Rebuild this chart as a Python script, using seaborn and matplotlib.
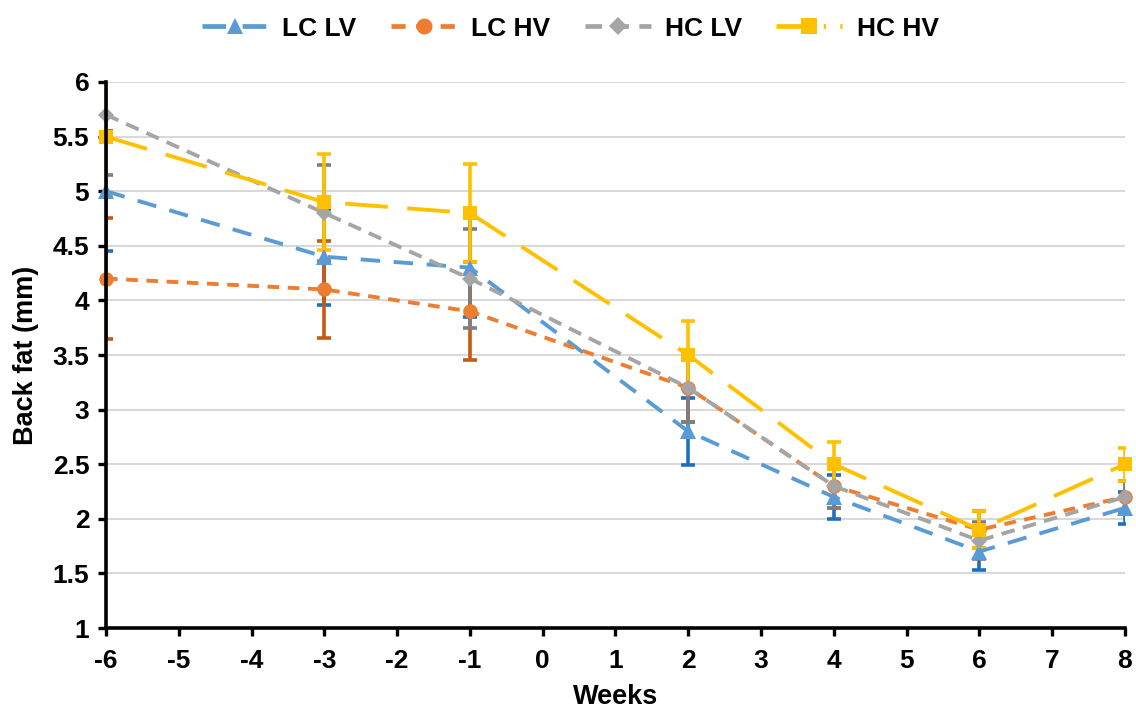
import pandas as pd
import numpy as np
import matplotlib
matplotlib.use("Agg")
import matplotlib.pyplot as plt
import seaborn as sns

# Data
weeks = [-6, -3, -1, 2, 4, 6, 8]
lc_lv = [5.0, 4.4, 4.3, 2.8, 2.2, 1.7, 2.1]
lc_hv = [4.2, 4.1, 3.9, 3.2, 2.3, 1.9, 2.2]
hc_lv = [5.7, 4.8, 4.2, 3.2, 2.3, 1.8, 2.2]
hc_hv = [5.5, 4.9, 4.8, 3.5, 2.5, 1.9, 2.5]
se = [0.55, 0.44, 0.45, 0.31, 0.20, 0.17, 0.15]

groups = ["LC LV", "LC HV", "HC LV", "HC HV"]
series = {"LC LV": lc_lv, "LC HV": lc_hv, "HC LV": hc_lv, "HC HV": hc_hv}

df = pd.concat(
    [pd.DataFrame({"Weeks": weeks, "Back fat": v, "Group": g, "se": se}) for g, v in series.items()],
    ignore_index=True,
)

line_colors = {"LC LV": "#5B9BD5", "LC HV": "#ED7D31", "HC LV": "#A5A5A5", "HC HV": "#FFC000"}
err_colors = {"LC LV": "#1F6FBF", "LC HV": "#C55A11", "HC LV": "#7F7F7F", "HC HV": "#FFC000"}
markers = {"LC LV": "^", "LC HV": "o", "HC LV": "D", "HC HV": "s"}
dashes = {"LC LV": (5, 3.5), "LC HV": (3, 2.2), "HC LV": (3.5, 2.2), "HC HV": (11, 5)}
msize = {"LC LV": 11, "LC HV": 10.5, "HC LV": 8, "HC HV": 10.5}

sns.set_theme(style="white")
plt.rcParams["font.family"] = ["Liberation Sans", "DejaVu Sans"]
plt.rcParams["font.weight"] = "bold"
plt.rcParams["axes.unicode_minus"] = False
plt.rcParams["text.color"] = "black"
plt.rcParams["axes.labelcolor"] = "black"
plt.rcParams["xtick.color"] = "black"
plt.rcParams["ytick.color"] = "black"

fig = plt.figure(figsize=(11.36, 7.13), dpi=100)
ax = fig.add_axes([0.0933, 0.1192, 0.8970, 0.7658])

# error bars (drawn under the lines)
for g in groups:
    d = df[df["Group"] == g]
    ax.errorbar(d["Weeks"], d["Back fat"], yerr=d["se"], fmt="none",
                ecolor=err_colors[g], elinewidth=2.6, capsize=5, capthick=2.6, zorder=2)

n_before = len(ax.lines)
sns.lineplot(data=df, x="Weeks", y="Back fat", hue="Group", style="Group",
             hue_order=groups, style_order=groups, palette=line_colors,
             markers=markers, dashes=dashes, linewidth=2.8, markeredgewidth=0,
             ax=ax, zorder=3, legend=False)

for ln, g in zip(ax.lines[n_before:], groups):
    ln.set_markersize(msize[g])
    ln.set_clip_on(False)

ax.set_xlim(-6, 8)
ax.set_ylim(1, 6)
ax.set_xticks(range(-6, 9))
ax.set_yticks(np.arange(1, 6.01, 0.5))
ax.set_yticklabels([f"{v:g}" for v in np.arange(1, 6.01, 0.5)])
ax.yaxis.grid(True, color="#D9D9D9", linewidth=1.5)
ax.set_axisbelow(True)
for s in ["top", "right"]:
    ax.spines[s].set_visible(False)
for s in ["left", "bottom"]:
    ax.spines[s].set_color("black")
    ax.spines[s].set_linewidth(2.6)
    ax.spines[s].set_zorder(4)
ax.tick_params(axis="both", direction="out", length=6, width=2.4, color="black",
               labelsize=19, left=True, bottom=True)
ax.tick_params(axis="x", pad=9)
ax.tick_params(axis="y", pad=6)
for t in ax.get_xticklabels() + ax.get_yticklabels():
    t.set_fontweight("bold")

ax.set_xlabel("Weeks", fontsize=19.5, fontweight="bold", labelpad=8)
ax.set_ylabel("Back fat (mm)", fontsize=19.5, fontweight="bold", labelpad=10)

handles = [
    plt.Line2D([], [], color=line_colors[g], marker=markers[g], markersize=msize[g] + 1,
               markeredgewidth=0, linewidth=3.4, dashes=dashes[g] if g != "HC HV" else (7, 3, 0.5, 3))
    for g in groups
]
leg = fig.legend(handles, groups, loc="upper center", bbox_to_anchor=(0.502, 1.01), ncol=4,
                 frameon=False, fontsize=19, handlelength=2.5, columnspacing=1.3,
                 handletextpad=0.55)
for t in leg.get_texts():
    t.set_fontweight("bold")

fig.savefig("out.png", dpi=100)
